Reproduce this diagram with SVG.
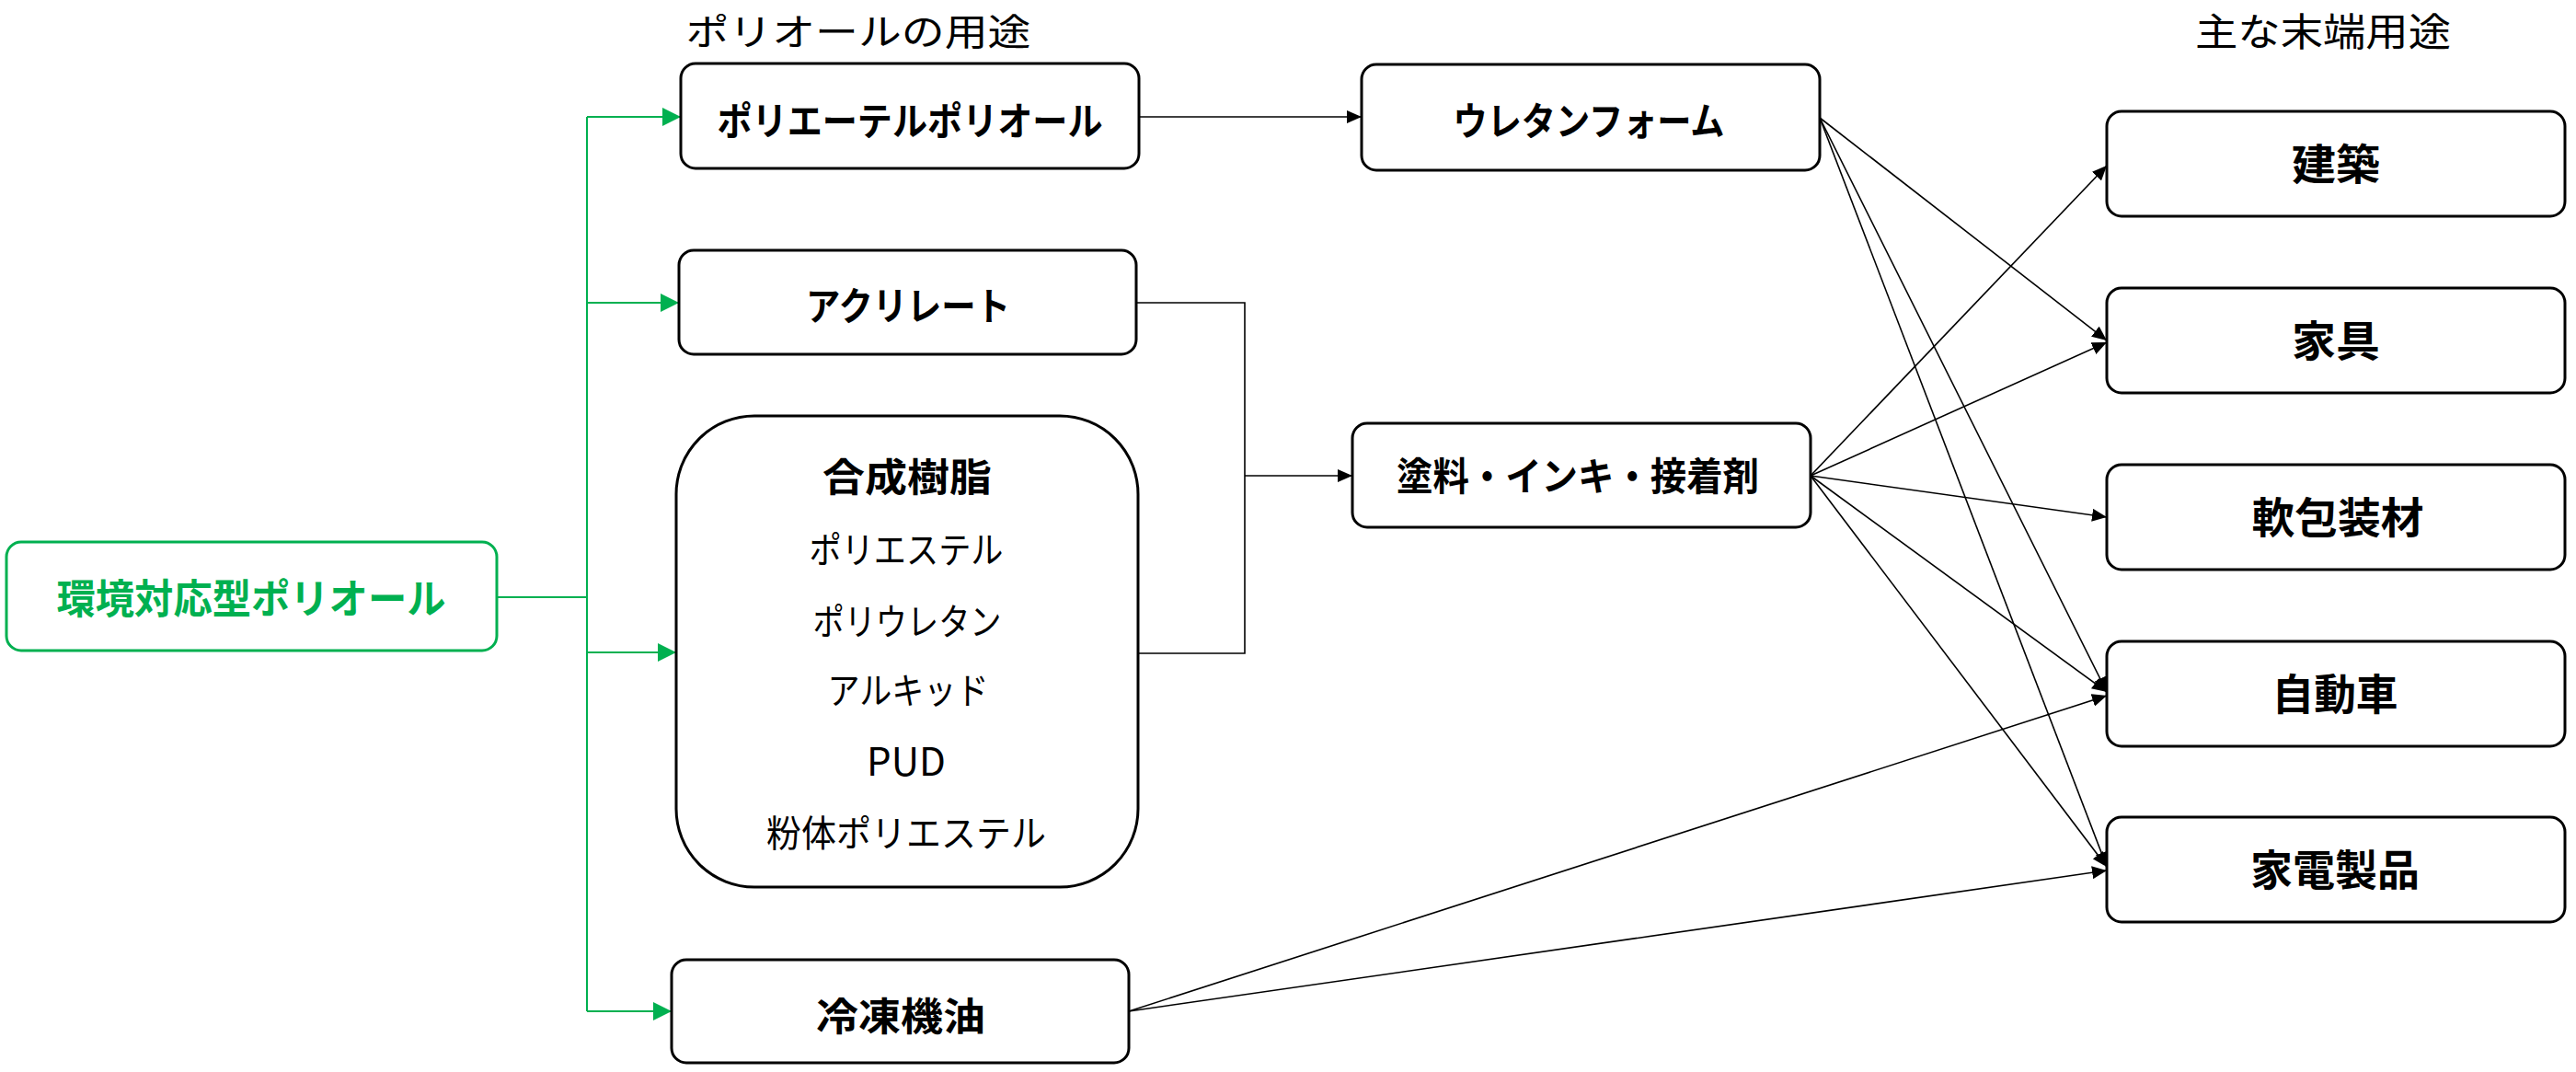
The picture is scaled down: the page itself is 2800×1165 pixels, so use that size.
<svg xmlns="http://www.w3.org/2000/svg" width="2800" height="1165" viewBox="0 0 2800 1165">
<style>
.box{fill:#fff;stroke:#000;stroke-width:3}
.gbox{fill:#fff;stroke:#00B050;stroke-width:3}
.t{font-family:"Noto Sans CJK JP","Noto Sans",sans-serif;text-anchor:middle;fill:#000}
.b{font-weight:bold}
.g{fill:#00B050}
.gl{fill:none;stroke:#00B050;stroke-width:2}
.bl{fill:none;stroke:#000;stroke-width:1.6}
</style>
<defs>
<marker id="ga" markerUnits="userSpaceOnUse" markerWidth="22" markerHeight="20" refX="20" refY="10" orient="auto"><path d="M0,0 L20,10 L0,20 Z" fill="#00B050"/></marker>
<marker id="ba" markerUnits="userSpaceOnUse" markerWidth="18" markerHeight="14" refX="16" refY="7" orient="auto"><path d="M0,0 L16,7 L0,14 Z" fill="#000"/></marker>
</defs>
<text class="t" x="933" y="49" font-size="40" textLength="375" lengthAdjust="spacingAndGlyphs">ポリオールの用途</text>
<text class="t" x="2525" y="50" font-size="42" textLength="278" lengthAdjust="spacingAndGlyphs">主な末端用途</text>
<g id="connectors">
<path class="gl" d="M540,649 H638 M638,127 V1099"/>
<path class="gl" d="M638,127 H740" marker-end="url(#ga)"/>
<path class="gl" d="M638,329 H738" marker-end="url(#ga)"/>
<path class="gl" d="M638,709 H735" marker-end="url(#ga)"/>
<path class="gl" d="M638,1099 H730" marker-end="url(#ga)"/>
<path class="bl" d="M1238,127 H1480" marker-end="url(#ba)"/>
<path class="bl" d="M1235,329 H1353 V710 H1237"/>
<path class="bl" d="M1353,517 H1470" marker-end="url(#ba)"/>
<path class="bl" d="M1978,128 L2290,370" marker-end="url(#ba)"/>
<path class="bl" d="M1978,128 L2290,752" marker-end="url(#ba)"/>
<path class="bl" d="M1978,128 L2290,942" marker-end="url(#ba)"/>
<path class="bl" d="M1968,517 L2290,180" marker-end="url(#ba)"/>
<path class="bl" d="M1968,517 L2290,372" marker-end="url(#ba)"/>
<path class="bl" d="M1968,517 L2290,562" marker-end="url(#ba)"/>
<path class="bl" d="M1968,517 L2290,752" marker-end="url(#ba)"/>
<path class="bl" d="M1968,517 L2290,942" marker-end="url(#ba)"/>
<path class="bl" d="M1227,1099 L2290,756" marker-end="url(#ba)"/>
<path class="bl" d="M1227,1099 L2290,946" marker-end="url(#ba)"/>
</g>
<g id="n_env"><rect class="gbox" x="7" y="589" width="533" height="118" rx="16"/><text class="t b g" x="273" y="667" font-size="44" textLength="423" lengthAdjust="spacingAndGlyphs">環境対応型ポリオール</text></g>
<g id="n_pe"><rect class="box" x="740" y="69" width="498" height="114" rx="16"/><text class="t b" x="989" y="147" font-size="42" textLength="419" lengthAdjust="spacingAndGlyphs">ポリエーテルポリオール</text></g>
<g id="n_acr"><rect class="box" x="738" y="272" width="497" height="113" rx="16"/><text class="t b" x="987" y="348" font-size="42" textLength="222" lengthAdjust="spacingAndGlyphs">アクリレート</text></g>
<g id="n_resin"><rect class="box" x="735" y="452" width="502" height="512" rx="85"/>
<text class="t b" x="986" y="534" font-size="42" textLength="184" lengthAdjust="spacingAndGlyphs">合成樹脂</text>
<text class="t" x="985" y="612" font-size="40" textLength="211" lengthAdjust="spacingAndGlyphs">ポリエステル</text>
<text class="t" x="986" y="690" font-size="40" textLength="205" lengthAdjust="spacingAndGlyphs">ポリウレタン</text>
<text class="t" x="987" y="765" font-size="40" textLength="175" lengthAdjust="spacingAndGlyphs">アルキッド</text>
<text class="t" x="985" y="843" font-size="42">PUD</text>
<text class="t" x="985" y="920" font-size="40" textLength="304" lengthAdjust="spacingAndGlyphs">粉体ポリエステル</text></g>
<g id="n_ref"><rect class="box" x="730" y="1043" width="497" height="112" rx="16"/><text class="t b" x="979" y="1120" font-size="42" textLength="184" lengthAdjust="spacingAndGlyphs">冷凍機油</text></g>
<g id="n_foam"><rect class="box" x="1480" y="70" width="498" height="115" rx="16"/><text class="t b" x="1727" y="147" font-size="42" textLength="295" lengthAdjust="spacingAndGlyphs">ウレタンフォーム</text></g>
<g id="n_paint"><rect class="box" x="1470" y="460" width="498" height="113" rx="16"/><text class="t b" x="1715" y="533" font-size="42" textLength="394" lengthAdjust="spacingAndGlyphs">塗料・インキ・接着剤</text></g>
<g id="n_build"><rect class="box" x="2290" y="121" width="498" height="114" rx="16"/><text class="t b" x="2539" y="195" font-size="46" textLength="96" lengthAdjust="spacingAndGlyphs">建築</text></g>
<g id="n_furn"><rect class="box" x="2290" y="313" width="498" height="114" rx="16"/><text class="t b" x="2539" y="387" font-size="46" textLength="96" lengthAdjust="spacingAndGlyphs">家具</text></g>
<g id="n_pack"><rect class="box" x="2290" y="505" width="498" height="114" rx="16"/><text class="t b" x="2541" y="579" font-size="46" textLength="187" lengthAdjust="spacingAndGlyphs">軟包装材</text></g>
<g id="n_car"><rect class="box" x="2290" y="697" width="498" height="114" rx="16"/><text class="t b" x="2538" y="771" font-size="46" textLength="137" lengthAdjust="spacingAndGlyphs">自動車</text></g>
<g id="n_appl"><rect class="box" x="2290" y="888" width="498" height="114" rx="16"/><text class="t b" x="2538" y="962" font-size="46" textLength="184" lengthAdjust="spacingAndGlyphs">家電製品</text></g>
</svg>
